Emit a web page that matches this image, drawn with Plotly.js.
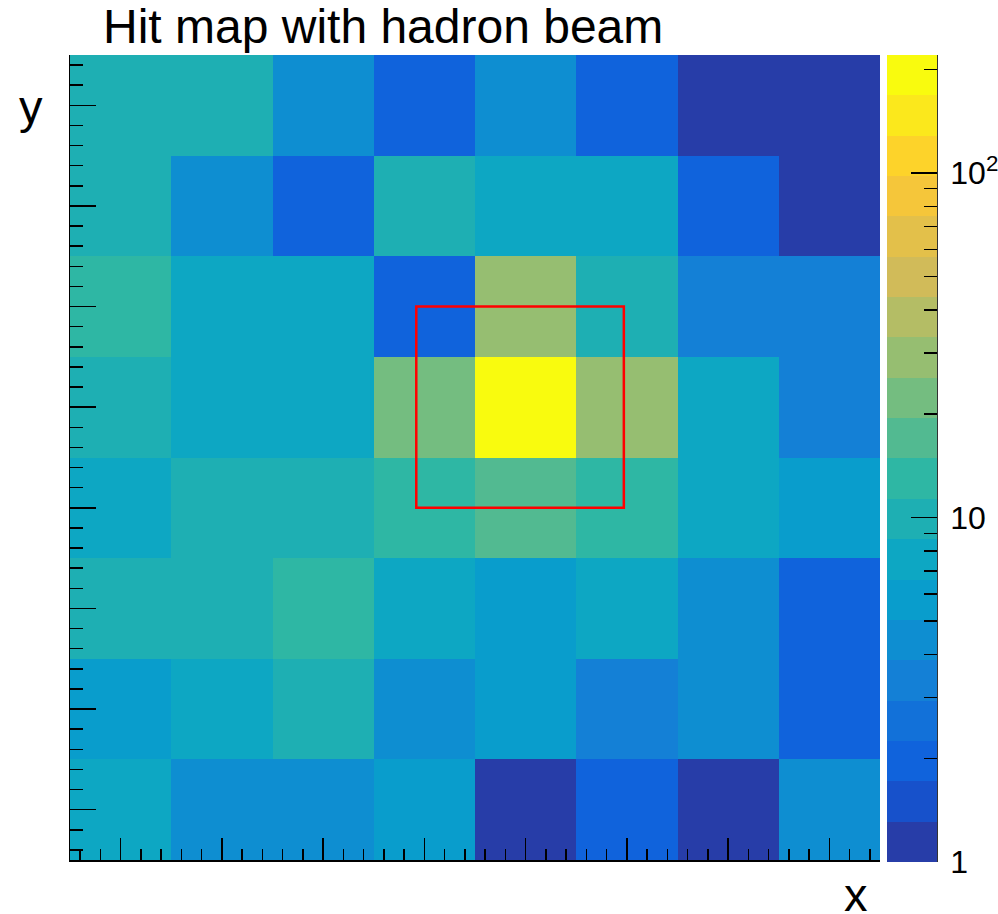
<!DOCTYPE html>
<html>
<head>
<meta charset="utf-8">
<script src="https://cdn.plot.ly/plotly-3.0.1.min.js"></script>
<style>
  html, body { margin: 0; padding: 0; background: #fff; }
  #plot { width: 998px; height: 914px; }
</style>
</head>
<body>
<div id="plot"></div>
<script>
// Hit counts per pad, rows listed from the bottom row (y = 0) to the top row (y = 7)
const padX = [0, 1, 2, 3, 4, 5, 6, 7];
const padY = [0, 1, 2, 3, 4, 5, 6, 7];
const hitsRow0 = [7, 4, 4, 6, 1, 2, 1, 4];
const hitsRow1 = [6, 7, 10, 4, 6, 3, 4, 2];
const hitsRow2 = [10, 10, 13, 7, 6, 7, 4, 2];
const hitsRow3 = [7, 10, 10, 13, 17, 13, 7, 6];
const hitsRow4 = [10, 7, 7, 22, 219, 29, 7, 3];
const hitsRow5 = [13, 7, 7, 2, 29, 10, 3, 3];
const hitsRow6 = [10, 4, 2, 10, 7, 7, 2, 1];
const hitsRow7 = [10, 10, 4, 2, 4, 2, 1, 1];

// Colour axis (log scale) range and labelled decades
const zRange = [1, 220];
const zMajorTicks = [1, 10, 100];
const zMajorLabels = ['1', '10', '10<sup>2</sup>'];
const zMinorTicks = [2, 3, 4, 5, 6, 7, 8, 9, 20, 30, 40, 50, 60, 70, 80, 90, 200];

// Central region of interest (x from, x to, y from, y to)
const roiX = [2.92, 4.97];
const roiY = [3.0, 5.0];

const hits = [hitsRow0, hitsRow1, hitsRow2, hitsRow3, hitsRow4, hitsRow5, hitsRow6, hitsRow7];
const logHits = hits.map(r => r.map(v => Math.log10(v)));
const zLog = zRange.map(v => Math.log10(v));

// ROOT "bird" palette, sampled into 20 discrete contour bands
const birdStops = [0.0, 0.125, 0.25, 0.375, 0.5, 0.625, 0.75, 0.875, 1.0];
const birdR = [0.2082, 0.0592, 0.0780, 0.0232, 0.1802, 0.5301, 0.8186, 0.9956, 0.9764];
const birdG = [0.1664, 0.3599, 0.5041, 0.6419, 0.7178, 0.7492, 0.7328, 0.7862, 0.9832];
const birdB = [0.5293, 0.8684, 0.8385, 0.7914, 0.6425, 0.4662, 0.3499, 0.1968, 0.0539];
function bird(p) {
  let i = 0;
  while (i < birdStops.length - 2 && p > birdStops[i + 1]) i++;
  const t = (p - birdStops[i]) / (birdStops[i + 1] - birdStops[i]);
  const c = ch => Math.round(255 * (ch[i] + (ch[i + 1] - ch[i]) * t));
  return 'rgb(' + c(birdR) + ',' + c(birdG) + ',' + c(birdB) + ')';
}
const nBands = 20;
const bandScale = [];
for (let k = 0; k < nBands; k++) {
  const idx = Math.floor((k + 0.99) * 255 / nBands);
  const col = bird(Math.min(idx / 254, 1));
  bandScale.push([k / nBands, col]);
  bandScale.push([(k + 1) / nBands, col]);
}

const font = 'Liberation Sans, Arial, Helvetica, sans-serif';

// pixel geometry of the frame
const W = 998, H = 914;
const M = { l: 70, r: 118, t: 55, b: 54 };
const plotW = W - M.l - M.r, plotH = H - M.t - M.b;
const cbGap = 7, cbThick = 50;

const cbCommon = {
  thickness: cbThick, thicknessmode: 'pixels',
  len: plotH + 2, lenmode: 'pixels',
  x: 1 + cbGap / plotW, xanchor: 'left', xpad: 0,
  y: 1, yanchor: 'top', ypad: 0,
  outlinewidth: 0,
  tickmode: 'array',
  ticks: 'inside', tickcolor: '#000', tickwidth: 1.5
};

const data = [
  {
    type: 'heatmap',
    x: padX, y: padY, z: logHits,
    coloraxis: 'coloraxis',
    hoverinfo: 'skip'
  },
  {
    // carries the minor ticks of the colour bar
    type: 'scatter', mode: 'markers',
    x: [null], y: [null],
    marker: { color: [0], coloraxis: 'coloraxis2' },
    showlegend: false, hoverinfo: 'skip'
  }
];

const axisCommon = {
  range: [-0.5, 7.5], showgrid: false, zeroline: false,
  showline: true, linecolor: '#000', linewidth: 1.5,
  ticks: 'inside', tickcolor: '#000', tickwidth: 1.5,
  tick0: 0, dtick: 1, showticklabels: false, fixedrange: true
};

const layout = {
  width: W, height: H,
  margin: { l: M.l, r: M.r, t: M.t, b: M.b, pad: 0, autoexpand: false },
  paper_bgcolor: '#fff', plot_bgcolor: '#fff',
  font: { family: font, color: '#000' },
  showlegend: false,
  title: {
    text: 'Hit map with hadron beam',
    font: { family: font, size: 48, color: '#000' },
    xref: 'container', x: 103 / W, xanchor: 'left',
    yref: 'container', y: 1 - 26 / H, yanchor: 'middle'
  },
  xaxis: Object.assign({}, axisCommon, {
    ticklen: 22,
    minor: { ticks: 'inside', ticklen: 11, dtick: 0.2, tickcolor: '#000', tickwidth: 1.5, showgrid: false }
  }),
  yaxis: Object.assign({}, axisCommon, {
    ticklen: 26,
    minor: { ticks: 'inside', ticklen: 13, dtick: 0.2, tickcolor: '#000', tickwidth: 1.5, showgrid: false }
  }),
  coloraxis: {
    cmin: zLog[0], cmax: zLog[1],
    colorscale: bandScale,
    colorbar: Object.assign({}, cbCommon, {
      tickvals: zMajorTicks.map(Math.log10),
      ticktext: zMajorLabels.map(s => '\u2009' + s),
      ticklen: 26,
      tickfont: { family: font, size: 32, color: '#000' }
    })
  },
  coloraxis2: {
    cmin: zLog[0], cmax: zLog[1],
    colorscale: [[0, 'rgba(0,0,0,0)'], [1, 'rgba(0,0,0,0)']],
    colorbar: Object.assign({}, cbCommon, {
      tickvals: zMinorTicks.map(Math.log10),
      ticklen: 13,
      showticklabels: false
    })
  },
  shapes: [
    {
      type: 'rect', xref: 'x', yref: 'y',
      x0: roiX[0], x1: roiX[1], y0: roiY[0], y1: roiY[1],
      line: { color: '#ff0000', width: 2.5 }
    },
    {
      // axis line along the right side of the colour bar
      type: 'line', xref: 'paper', yref: 'paper',
      x0: 1 + (cbGap + cbThick) / plotW, x1: 1 + (cbGap + cbThick) / plotW,
      y0: -2 / plotH, y1: 1,
      line: { color: '#333', width: 2 }
    }
  ],
  annotations: [
    {
      text: 'y', xref: 'paper', yref: 'paper',
      x: (31 - M.l) / plotW, y: 1 - (106 - M.t) / plotH,
      xanchor: 'center', yanchor: 'middle', showarrow: false,
      font: { family: font, size: 47, color: '#000' }
    },
    {
      text: 'x', xref: 'paper', yref: 'paper',
      x: (856 - M.l) / plotW, y: -(894 - M.t - plotH) / plotH,
      xanchor: 'center', yanchor: 'middle', showarrow: false,
      font: { family: font, size: 47, color: '#000' }
    }
  ]
};

Plotly.newPlot('plot', data, layout, { staticPlot: true, displayModeBar: false });
</script>
</body>
</html>
